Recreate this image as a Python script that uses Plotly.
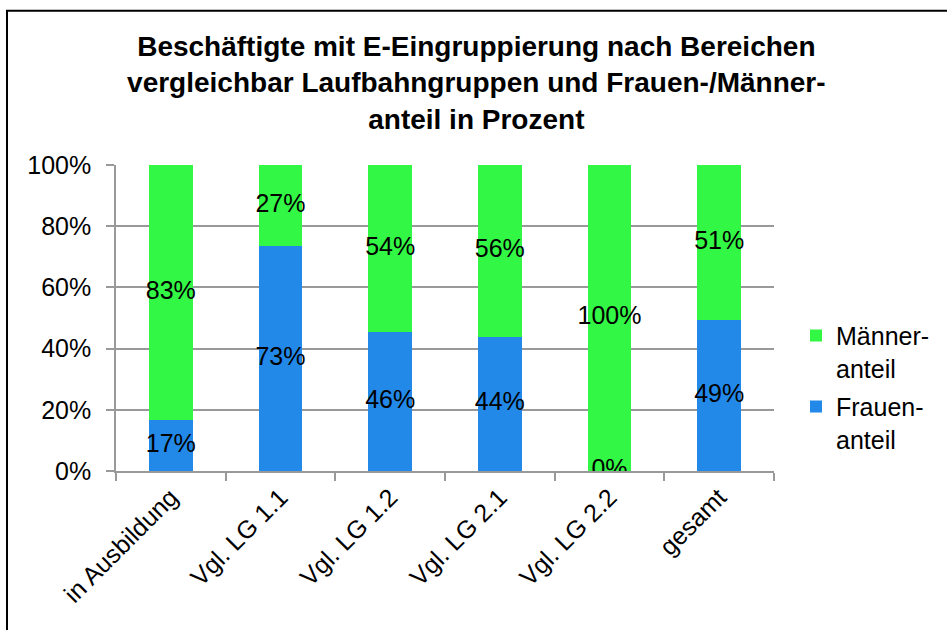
import plotly.graph_objects as go

categories = ["in Ausbildung", "Vgl. LG 1.1", "Vgl. LG 1.2", "Vgl. LG 2.1", "Vgl. LG 2.2", "gesamt"]
frauen = [16.6, 73.5, 45.5, 43.8, 0.0, 49.4]
maenner = [83.4, 26.5, 54.5, 56.2, 100.0, 50.6]
frauen_labels = ["17%", "73%", "46%", "44%", "0%", "49%"]
maenner_labels = ["83%", "27%", "54%", "56%", "100%", "51%"]
y_ticks = [0, 20, 40, 60, 80, 100]
y_tick_labels = ["0%", "20%", "40%", "60%", "80%", "100%"]

FONT = "Arial, 'Liberation Sans', sans-serif"
GREEN = "#33F745"
BLUE = "#2389E9"
GRID = "#999999"

fig = go.Figure()
fig.add_trace(go.Bar(x=categories, y=frauen, name="Frauen-<br>anteil", legendgroup="f", legendrank=2,
                     marker=dict(color=BLUE, line=dict(width=0)), hoverinfo="skip"))
fig.add_trace(go.Bar(x=categories, y=maenner, name="Männer-<br>anteil", legendgroup="m", legendrank=1,
                     marker=dict(color=GREEN, line=dict(width=0)), hoverinfo="skip"))

# data labels centred on each segment
fig.add_trace(go.Scatter(x=categories, y=[f / 2 for f in frauen], mode="text",
                         text=frauen_labels, textposition="middle center",
                         textfont=dict(family=FONT, size=25, color="black"),
                         showlegend=False, hoverinfo="skip"))
fig.add_trace(go.Scatter(x=categories, y=[f + m / 2 for f, m in zip(frauen, maenner)], mode="text",
                         text=maenner_labels, textposition="middle center",
                         textfont=dict(family=FONT, size=25, color="black"),
                         showlegend=False, hoverinfo="skip"))

L, R, T, B = 116, 173, 164.5, 159
W, H = 947, 630
pw, ph = W - L - R, H - T - B

fig.update_layout(
    width=W, height=H,
    barmode="stack", bargap=0.6,
    paper_bgcolor="white", plot_bgcolor="white",
    margin=dict(l=L, r=R, t=T, b=B, autoexpand=False),
    font=dict(family=FONT, size=25, color="black"),
    title=dict(text="Beschäftigte mit E-Eingruppierung nach Bereichen<br>vergleichbar Laufbahngruppen und Frauen-/Männer-<br>anteil in Prozent",
               x=0.503, xanchor="center", y=1 - 56 / H, yanchor="top",
               font=dict(family=FONT, size=28, color="black", weight="bold")),
    legend=dict(x=(796 - L) / pw, xanchor="left", y=(471 - 387) / ph, yanchor="middle",
                font=dict(family=FONT, size=25, color="black"), traceorder="grouped",
                valign="top", bgcolor="rgba(0,0,0,0)", itemwidth=30, tracegroupgap=3),
    xaxis=dict(showline=True, linecolor=GRID, linewidth=1.5, ticks="outside", tickson="boundaries",
               ticklen=8, tickcolor=GRID, tickwidth=1.5, tickangle=-45, showgrid=False,
               tickfont=dict(family=FONT, size=25, color="black"), fixedrange=True),
    yaxis=dict(range=[0, 100], tickvals=y_ticks, ticktext=y_tick_labels, showline=True,
               linecolor=GRID, linewidth=1.5, ticks="outside", ticklen=8, tickcolor=GRID, tickwidth=1.5,
               showgrid=True, gridcolor=GRID, gridwidth=1.5, zeroline=False, ticklabelstandoff=10,
               tickfont=dict(family=FONT, size=25, color="black"), fixedrange=True),
    shapes=[dict(type="rect", xref="paper", yref="paper",
                 x0=(7 - L) / pw, x1=(960 - L) / pw,
                 y0=(471 - 660) / ph, y1=(471 - 10) / ph,
                 line=dict(color="black", width=2), fillcolor="rgba(0,0,0,0)", layer="above")],
)

fig.write_html("out.html", config={"displayModeBar": False},
               post_script="document.body.style.margin='0';document.body.style.overflow='hidden';")
